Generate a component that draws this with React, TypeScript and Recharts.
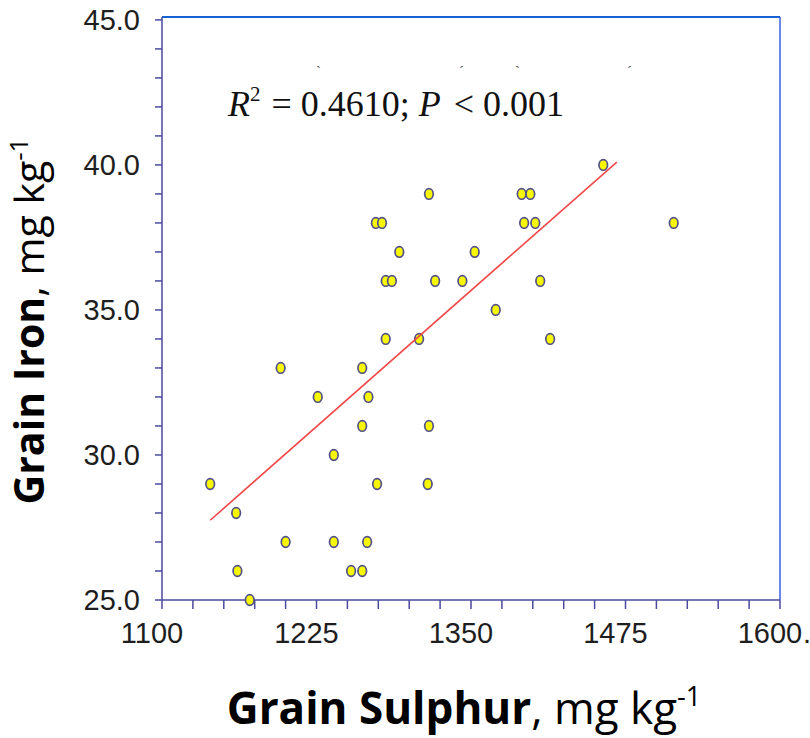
import { ScatterChart, Scatter, XAxis, YAxis, ReferenceLine } from "recharts";

const sulphur = [
  1139, 1160, 1161, 1171, 1196, 1200, 1226, 1239, 1239, 1253, 1262, 1262, 1262,
  1267, 1266, 1274, 1273, 1278, 1281, 1286, 1281, 1292, 1308, 1316, 1321, 1316,
  1315, 1343, 1353, 1370, 1391, 1398, 1393, 1402, 1406, 1414, 1457, 1514,
];
const iron = [
  29, 28, 26, 25, 33, 27, 32, 30, 27, 26, 26, 33, 31, 32, 27, 29, 38, 38, 36,
  36, 34, 37, 34, 39, 36, 31, 29, 36, 37, 35, 39, 39, 38, 38, 36, 34, 40, 38,
];
const fitX = [1139, 1468];
const fitY = [27.75, 40.1];

const xTicks = [
  1100, 1125, 1150, 1175, 1200, 1225, 1250, 1275, 1300, 1325, 1350, 1375, 1400,
  1425, 1450, 1475, 1500, 1525, 1550, 1575, 1600,
];
const xLabels = [1100, 1225, 1350, 1475, 1600];
const yTicks = [
  25, 26, 27, 28, 29, 30, 31, 32, 33, 34, 35, 36, 37, 38, 39, 40, 41, 42, 43,
  44, 45,
];
const yLabels = [25, 30, 35, 40, 45];

const points = sulphur.map((s, i) => ({ x: s, y: iron[i] }));
const fit = fitX.map((s, i) => ({ x: s, y: fitY[i] }));

const AXIS = "#4a4a9e";
const TICK_FONT = "'Liberation Sans', Arial, sans-serif";
const TITLE_FONT = "'Open Sans', sans-serif";

function Dot(props: any) {
  const { cx, cy } = props;
  if (cx == null || cy == null) return null;
  return (
    <ellipse cx={cx} cy={cy} rx={4.3} ry={5.3} fill="#f7f700" stroke="#50508a" strokeWidth={1.7} />
  );
}

function XTick(props: any) {
  const { x, y, payload } = props;
  const v = payload.value;
  if (!xLabels.includes(v)) return null;
  return (
    <g>
      <text x={x - 10} y={y} dy="0.71em" textAnchor="middle" fontSize={29} fontFamily={TICK_FONT} fill="#1e1e1e">
        {String(v)}
      </text>
      {v === 1600 && (
        <text x={x + 23} y={y} dy="0.71em" fontSize={29} fontFamily={TICK_FONT} fill="#1e1e1e">
          .
        </text>
      )}
    </g>
  );
}

function YTick(props: any) {
  const { x, y, payload } = props;
  const v = payload.value;
  if (!yLabels.includes(v)) return null;
  return (
    <text x={x} y={y} dy="0.36em" textAnchor="end" fontSize={29} fontFamily={TICK_FONT} fill="#1e1e1e">
      {v.toFixed(1)}
    </text>
  );
}

export default function App() {
  return (
    <div style={{ position: "absolute", left: 0, top: 0, width: 810, height: 738, background: "#fff" }}>
      <ScatterChart width={810} height={738} margin={{ top: 17, right: 30, bottom: 0, left: 0 }}>
        <XAxis
          type="number"
          dataKey="x"
          domain={[1100, 1600]}
          ticks={xTicks}
          interval={0}
          height={138}
          stroke={AXIS}
          strokeWidth={1.5}
          tickSize={9}
          tickMargin={13}
          tick={<XTick />}
          tickLine={{ stroke: AXIS, strokeWidth: 1.5 }}
        />
        <YAxis
          type="number"
          dataKey="y"
          domain={[25, 45.1]}
          ticks={yTicks}
          interval={0}
          width={162}
          stroke={AXIS}
          strokeWidth={1.5}
          tickSize={7}
          tickMargin={15}
          tick={<YTick />}
          tickLine={{ stroke: AXIS, strokeWidth: 1.5 }}
        />
        <ReferenceLine y={45.1} stroke="#1662d4" strokeWidth={2} />
        <ReferenceLine x={1600} stroke="#3b5fe6" strokeWidth={1.5} />
        <Scatter data={points} shape={<Dot />} isAnimationActive={false} />
        <Scatter
          data={fit}
          line={{ stroke: "#f04848", strokeWidth: 1.6 }}
          shape={() => null}
          isAnimationActive={false}
        />
      </ScatterChart>
      <svg width={810} height={738} style={{ position: "absolute", left: 0, top: 0, pointerEvents: "none" }}>
        <text x={228} y={116} fontSize={36} fontFamily="'Liberation Serif', 'Times New Roman', serif" fill="#111">
          <tspan fontStyle="italic">R</tspan>
          <tspan fontSize={21} dy={-15}>2</tspan>
          <tspan dy={15} dx={2}> = 0.4610; </tspan>
          <tspan fontStyle="italic">P</tspan>
          <tspan dx={4}> &lt; 0.001</tspan>
        </text>
        <g fontSize={15} fontFamily="'Liberation Serif', serif" fill="#444">
          <text x={316} y={76}>`</text>
          <text x={459} y={76}>´</text>
          <text x={515} y={76}>`</text>
          <text x={627} y={76}>´</text>
        </g>
        <text x={464} y={724} textAnchor="middle" fontSize={44} fontFamily={TITLE_FONT} fill="#000">
          <tspan fontWeight={700}>Grain Sulphur</tspan>
          <tspan fontWeight={400}>, mg kg</tspan>
          <tspan fontWeight={400} fontSize={27} dy={-18}>-1</tspan>
        </text>
        <text
          transform="translate(44, 321) rotate(-90)"
          x={0}
          y={0}
          textAnchor="middle"
          fontSize={41}
          fontFamily={TITLE_FONT}
          fill="#000"
        >
          <tspan fontWeight={700}>Grain Iron</tspan>
          <tspan fontWeight={400}>, mg kg</tspan>
          <tspan fontWeight={400} fontSize={26} dy={-16}>-1</tspan>
        </text>
      </svg>
    </div>
  );
}
